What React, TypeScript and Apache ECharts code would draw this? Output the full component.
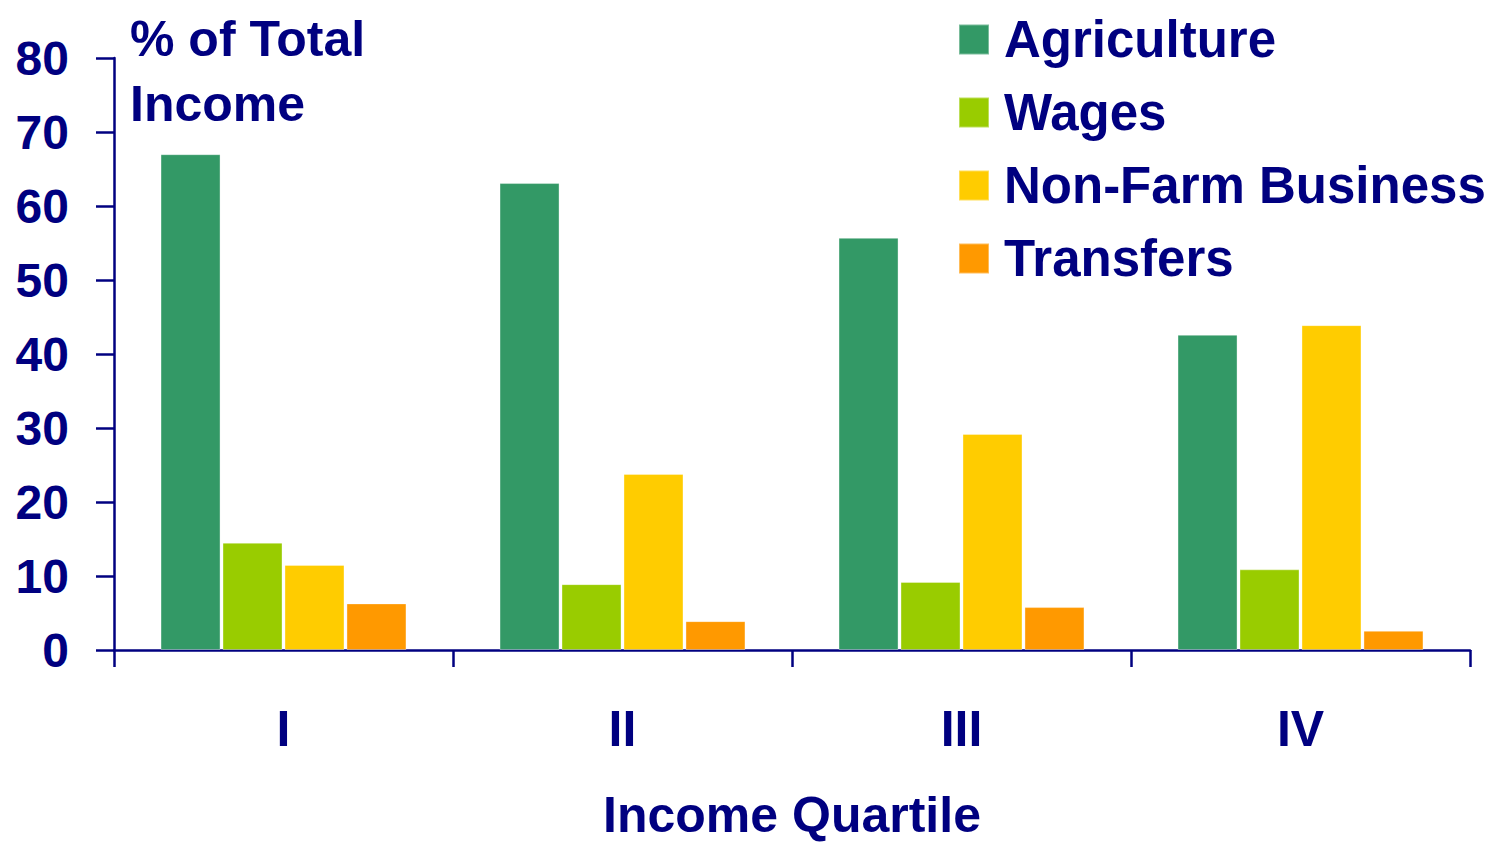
import React, { useEffect, useRef } from "react";
import * as echarts from "echarts";

const categories = ["I", "II", "III", "IV"];
const agriculture = [67.0, 63.1, 55.7, 42.6];
const wages = [14.5, 8.9, 9.2, 10.9];
const nonFarm = [11.5, 23.8, 29.2, 43.9];
const transfers = [6.3, 3.9, 5.8, 2.6];
const seriesNames = ["Agriculture", "Wages", "Non-Farm Business", "Transfers"];
const colors = ["#339966", "#99CC00", "#FFCC00", "#FF9900"];

const NAVY = "#000080";
const FONT = "'Liberation Sans', Arial, sans-serif";

export default function App() {
  const ref = useRef<HTMLDivElement>(null);
  useEffect(() => {
    if (!ref.current) return;
    const chart = echarts.init(ref.current, undefined, { renderer: "svg" });
    const data = [agriculture, wages, nonFarm, transfers];
    chart.setOption({
      animation: false,
      backgroundColor: "#ffffff",
      textStyle: { fontFamily: FONT },
      grid: { left: 114, right: 26, top: 58, bottom: 193, containLabel: false },
      legend: {
        orient: "vertical",
        left: 958,
        top: 14,
        padding: 0,
        itemWidth: 30,
        itemHeight: 30,
        itemGap: 22,
        icon: "rect",
        data: seriesNames,
        textStyle: {
          color: NAVY,
          fontSize: 51,
          fontWeight: "bold",
          fontFamily: FONT,
          lineHeight: 50,
          padding: [0, 0, 0, 10],
        },
      },
      xAxis: {
        type: "category",
        data: categories,
        axisLine: { show: true, lineStyle: { color: NAVY, width: 2.5 } },
        axisTick: { show: true, length: 17, lineStyle: { color: NAVY, width: 2.5 } },
        axisLabel: {
          color: NAVY,
          fontSize: 50,
          fontWeight: "bold",
          fontFamily: FONT,
          margin: 54,
        },
        splitLine: { show: false },
      },
      yAxis: {
        type: "value",
        min: 0,
        max: 80,
        interval: 10,
        axisLine: { show: true, lineStyle: { color: NAVY, width: 2.5 } },
        axisTick: { show: true, length: 18, lineStyle: { color: NAVY, width: 2.5 } },
        axisLabel: {
          color: NAVY,
          fontSize: 48,
          fontWeight: "bold",
          fontFamily: FONT,
          margin: 45,
        },
        splitLine: { show: false },
      },
      graphic: [
        {
          type: "text",
          left: 130,
          top: 6,
          style: {
            text: "% of Total\nIncome",
            fill: NAVY,
            font: `bold 50px ${FONT}`,
            lineHeight: 65,
          },
        },
        {
          type: "text",
          x: 792,
          y: 815,
          style: {
            text: "Income Quartile",
            fill: NAVY,
            font: `bold 50px ${FONT}`,
            textAlign: "center",
            textVerticalAlign: "middle",
          },
        },
      ],
      series: seriesNames.map((name, i) => ({
        name,
        type: "bar",
        data: data[i],
        barWidth: 60,
        barGap: "3.3%",
        itemStyle: { color: colors[i], borderColor: "rgba(255,255,255,0.35)", borderWidth: 1 },
      })),
    });
    return () => chart.dispose();
  }, []);
  return (
    <div
      ref={ref}
      style={{ position: "fixed", left: 0, top: 0, width: 1496, height: 843 }}
    />
  );
}
